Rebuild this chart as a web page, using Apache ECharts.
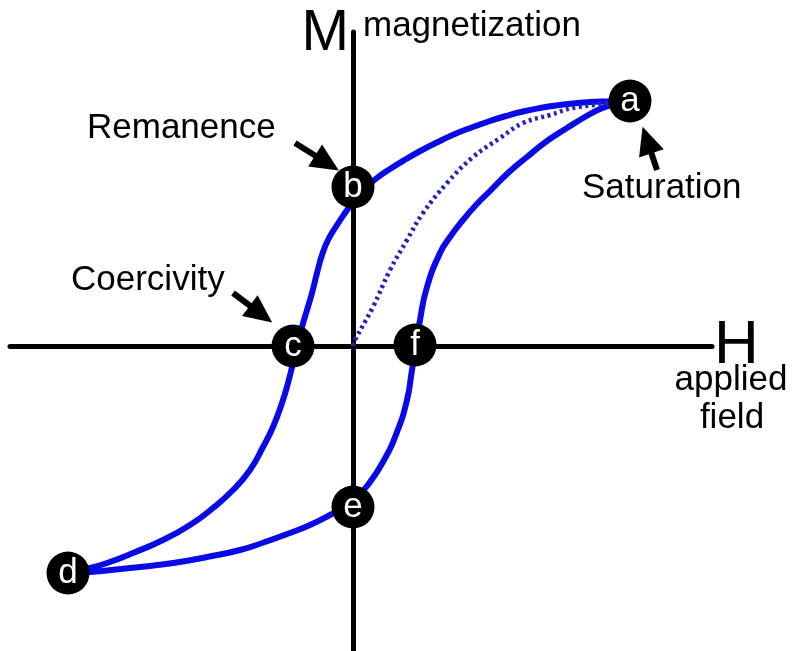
<!DOCTYPE html>
<html>
<head>
<meta charset="utf-8">
<script src="https://cdn.jsdelivr.net/npm/echarts@6/dist/echarts.min.js"></script>
<style>
  html, body { margin: 0; padding: 0; background: #fff; }
  #loop { width: 794px; height: 651px; }
</style>
</head>
<body>
<div id="loop"></div>
<script>
// hysteresis loop, H and M in units of 100px from the origin
const upperBranch = [
  [2.77, 2.45], [2.54, 2.445], [2.37, 2.44], [2.20, 2.425], [2.03, 2.405], [1.87, 2.38],
  [1.70, 2.345], [1.53, 2.30], [1.37, 2.25], [1.20, 2.19], [1.03, 2.125], [0.87, 2.05],
  [0.70, 1.965], [0.54, 1.875], [0.37, 1.77], [0.22, 1.665], [0.10, 1.555], [0.00, 1.44],
  [-0.08, 1.33], [-0.16, 1.21], [-0.25, 1.06], [-0.31, 0.91], [-0.36, 0.73], [-0.41, 0.53],
  [-0.46, 0.36], [-0.51, 0.19], [-0.56, 0.00], [-0.60, -0.17], [-0.65, -0.37], [-0.71, -0.57],
  [-0.80, -0.81], [-0.90, -1.01], [-1.03, -1.24], [-1.20, -1.44], [-1.40, -1.62],
  [-1.63, -1.79], [-1.90, -1.94], [-2.20, -2.07], [-2.46, -2.17], [-2.63, -2.22], [-2.85, -2.27]
];
const lowerBranch = [
  [-2.85, -2.27], [-2.63, -2.26], [-2.46, -2.245], [-2.13, -2.21], [-1.80, -2.17],
  [-1.46, -2.11], [-1.13, -2.04], [-0.88, -1.96], [-0.63, -1.87], [-0.43, -1.79],
  [-0.23, -1.69], [-0.09, -1.61], [0.03, -1.51], [0.14, -1.40], [0.30, -1.16], [0.44, -0.86],
  [0.54, -0.54], [0.59, -0.24], [0.63, 0.00], [0.67, 0.26], [0.74, 0.59], [0.87, 0.93],
  [0.97, 1.09], [1.10, 1.26], [1.23, 1.41], [1.37, 1.55], [1.55, 1.73], [1.74, 1.89],
  [1.94, 2.05], [2.14, 2.18], [2.31, 2.285], [2.47, 2.37], [2.62, 2.42], [2.77, 2.45]
];
const initialCurve = [
  [0.00, 0.00], [0.02, 0.06], [0.20, 0.39], [0.37, 0.76], [0.54, 1.06], [0.70, 1.33],
  [0.94, 1.63], [1.20, 1.89], [1.47, 2.08], [1.70, 2.23], [1.97, 2.31], [2.20, 2.38], [2.77, 2.45]
];
const pointNames = ["a", "b", "c", "d", "e", "f"];
const pointH = [2.77, 0.00, -0.60, -2.85, 0.00, 0.62];
const pointM = [2.45, 1.59, 0.00, -2.27, -1.61, 0.01];
const arrowTails = [[-0.58, 2.03], [-1.20, 0.53], [3.04, 1.76]];
const arrowEnds = [[-0.26, 1.83], [-0.92, 0.32], [2.94, 2.06]];

const FONT = "Liberation Sans, Arial, sans-serif";
const BLUE = "#0a0ae6";

let chart = echarts.init(document.getElementById("loop"));

function label(text, x, baseline, align) {
  return {
    type: "text",
    x: x,
    y: baseline - 11.5,
    style: {
      text: text,
      fontSize: 35,
      fontFamily: FONT,
      fill: "#000",
      textAlign: align || "left",
      textVerticalAlign: "middle"
    }
  };
}

chart.setOption({
  animation: false,
  grid: { left: 10, right: 82, top: 32, bottom: 0 },
  xAxis: {
    type: "value",
    min: -3.43,
    max: 3.59,
    name: "H",
    nameLocation: "end",
    nameGap: 2,
    nameTextStyle: { fontSize: 62, fontFamily: FONT, color: "#000", padding: [0, 0, 9, 0] },
    axisLine: { onZero: true, lineStyle: { color: "#000", width: 5 } },
    axisTick: { show: false },
    axisLabel: { show: false },
    splitLine: { show: false }
  },
  yAxis: {
    type: "value",
    min: -3.05,
    max: 3.14,
    name: "M",
    nameLocation: "end",
    nameGap: -2,
    nameTextStyle: {
      fontSize: 57, fontFamily: FONT, color: "#000",
      align: "right", verticalAlign: "middle", padding: [0, 4, 0, 0]
    },
    axisLine: { onZero: true, lineStyle: { color: "#000", width: 5 } },
    axisTick: { show: false },
    axisLabel: { show: false },
    splitLine: { show: false }
  },
  graphic: [
    label("magnetization", 363, 38),
    label("Remanence", 87, 140),
    label("Coercivity", 71, 292),
    label("Saturation", 582, 200),
    label("applied", 731, 392, "center"),
    label("field", 732, 430, "center")
  ],
  series: [
    {
      type: "line",
      data: upperBranch,
      smooth: 0.5,
      showSymbol: false,
      lineStyle: { color: BLUE, width: 6 },
      z: 3
    },
    {
      type: "line",
      data: lowerBranch,
      smooth: 0.5,
      showSymbol: false,
      lineStyle: { color: BLUE, width: 6 },
      z: 3
    },
    {
      type: "line",
      data: initialCurve,
      smooth: 0.4,
      showSymbol: false,
      lineStyle: { color: "#2323c4", width: 4.5, type: [3, 3.5], cap: "butt" },
      z: 3
    },
    {
      type: "scatter",
      data: pointNames.map((n, i) => ({ name: n, value: [pointH[i], pointM[i]] })),
      symbolSize: 43,
      itemStyle: { color: "#000", opacity: 1 },
      clip: false,
      label: {
        show: true,
        position: "inside",
        formatter: (p) => p.name,
        color: "#fff",
        fontSize: 35,
        fontFamily: FONT
      },
      z: 5,
      markLine: {
        silent: true,
        symbol: ["none", "triangle"],
        symbolSize: [26, 28],
        lineStyle: { color: "#000", width: 6, type: "solid" },
        label: { show: false },
        data: arrowTails.map((t, i) => [{ coord: t }, { coord: arrowEnds[i] }])
      }
    }
  ]
});
</script>
</body>
</html>
